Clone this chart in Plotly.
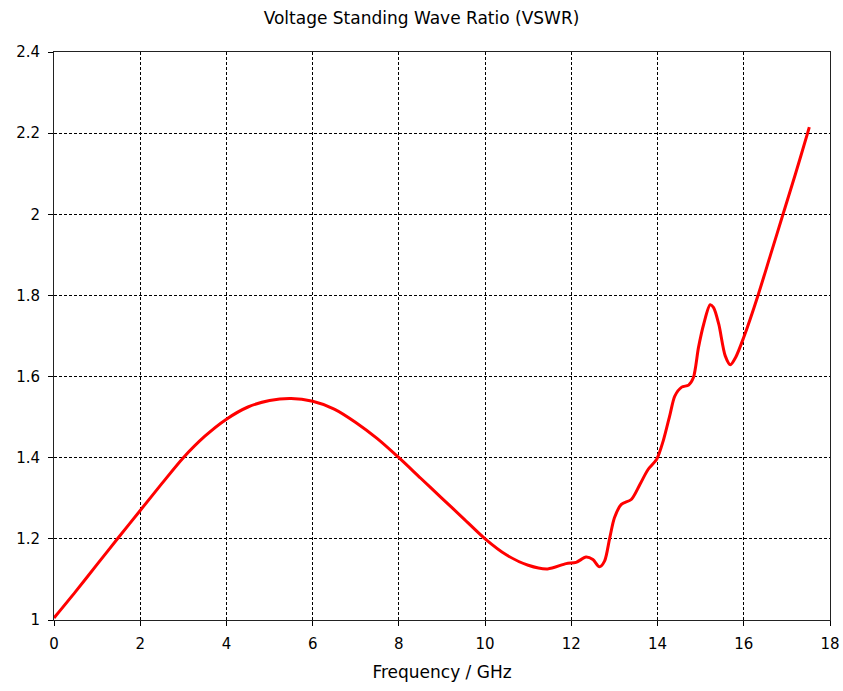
import plotly.graph_objects as go

# Frequency sweep (GHz) and measured VSWR
freq_ghz = [0.0, 0.5, 1.0, 1.5, 2.0, 2.5, 3.0, 3.5, 4.0, 4.5, 5.0, 5.5, 6.0,
            6.5, 7.0, 7.5, 8.0, 8.5, 9.0, 9.5, 10.0, 10.5, 11.0, 11.45, 11.88,
            12.11, 12.34, 12.5, 12.65, 12.77, 12.89, 13.0, 13.16, 13.39, 13.59,
            13.78, 13.98, 14.13, 14.29, 14.40, 14.56, 14.72, 14.83, 14.95, 15.07,
            15.22, 15.30, 15.42, 15.57, 15.69, 15.81, 16.0, 16.33, 16.62, 16.91,
            17.2, 17.48, 17.52]
vswr = [1.005, 1.07, 1.137, 1.204, 1.27, 1.336, 1.40, 1.453, 1.495, 1.525, 1.541,
        1.546, 1.539, 1.52, 1.487, 1.447, 1.40, 1.35, 1.30, 1.25, 1.20, 1.16, 1.135,
        1.126, 1.139, 1.142, 1.155, 1.149, 1.131, 1.145, 1.202, 1.252, 1.285, 1.297,
        1.334, 1.371, 1.396, 1.441, 1.507, 1.552, 1.574, 1.579, 1.597, 1.672, 1.729,
        1.777, 1.770, 1.729, 1.651, 1.629, 1.647, 1.697, 1.80, 1.90, 2.0, 2.1, 2.2,
        2.215]

x_ticks = [0, 2, 4, 6, 8, 10, 12, 14, 16, 18]
y_ticks = [1, 1.2, 1.4, 1.6, 1.8, 2, 2.2, 2.4]
y_tick_text = ["1", "1.2", "1.4", "1.6", "1.8", "2", "2.2", "2.4"]

font_family = "DejaVu Sans"

fig = go.Figure(
    go.Scatter(
        x=freq_ghz,
        y=vswr,
        mode="lines",
        line=dict(color="#ff0000", width=3, shape="spline", smoothing=0.8),
        showlegend=False,
        hoverinfo="skip",
    )
)

axis_common = dict(
    showgrid=True,
    gridcolor="#000000",
    gridwidth=1,
    griddash="3px,2px",
    showline=True,
    linecolor="#222222",
    linewidth=1,
    mirror=True,
    ticks="outside",
    ticklen=5,
    tickcolor="#000000",
    zeroline=False,
    automargin=False,
    ticklabelstandoff=5,
    tickfont=dict(family=font_family, size=15, color="#000000"),
)

fig.update_xaxes(
    range=[0, 18],
    tickvals=x_ticks,
    ticktext=[str(v) for v in x_ticks],
    title=dict(text="Frequency / GHz", font=dict(family=font_family, size=17, color="#000000"), standoff=14),
    **axis_common,
)
fig.update_yaxes(
    range=[1, 2.4],
    tickvals=y_ticks,
    ticktext=y_tick_text,
    **axis_common,
)

fig.update_layout(
    width=843,
    height=691,
    margin=dict(l=54, r=13, t=52, b=71),
    paper_bgcolor="#ffffff",
    plot_bgcolor="#ffffff",
    title=dict(
        text="Voltage Standing Wave Ratio (VSWR)",
        x=0.5,
        xanchor="center",
        y=1 - 18 / 691,
        yanchor="middle",
        font=dict(family=font_family, size=17, color="#000000"),
    ),
)

fig.write_html("out.html")
